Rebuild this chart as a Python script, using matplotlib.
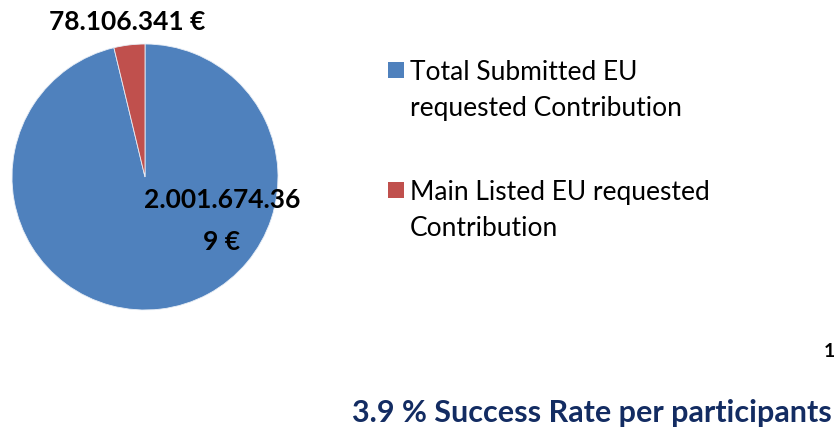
import matplotlib
matplotlib.use("Agg")
import matplotlib.pyplot as plt
from matplotlib.patches import Rectangle

# data
labels = [["Total Submitted EU", "requested Contribution"],
          ["Main Listed EU requested", "Contribution"]]
values = [2001674369, 78106341]
colors = ["#4F81BD", "#C0504D"]
value_text = ["2.001.674.36", "78.106.341 €"]
title = "3.9 % Success Rate per participants"

W, H = 837, 435
plt.rcParams["font.family"] = ["Lato", "DejaVu Sans"]

fig = plt.figure(figsize=(W / 100, H / 100), dpi=100)


def px(x, y):
    return x / W, 1 - y / H


# pie axes: centre (145,178), radius 133 px
cx, cy, r = 145, 178, 133
ax = fig.add_axes([(cx - r) / W, 1 - (cy + r) / H, 2 * r / W, 2 * r / H])
wedges, _ = ax.pie(values, colors=colors, startangle=90, counterclock=False,
                   radius=1, wedgeprops=dict(linewidth=0.6, edgecolor="#e8eef6"))
ax.set_xlim(-1, 1)
ax.set_ylim(-1, 1)
ax.set_aspect("equal")
ax.axis("off")

# value labels
fig.text(*px(127, 22), value_text[1], ha="center", va="center",
         fontsize=19, fontweight="bold", color="black")
fig.text(*px(222, 200), value_text[0], ha="center", va="center",
         fontsize=19, fontweight="bold", color="black")
fig.text(*px(222, 242), "9 €", ha="center", va="center",
         fontsize=19, fontweight="bold", color="black")

# legend (handle sits on the first line of each entry)
entry_top = [63, 183]
for i, w in enumerate(wedges):
    x0, y0 = px(388, entry_top[i] + 16)
    fig.add_artist(Rectangle((x0, y0), 16 / W, 16 / H,
                             transform=fig.transFigure,
                             facecolor=w.get_facecolor(), edgecolor="none"))
    for j, line in enumerate(labels[i]):
        fig.text(*px(410, entry_top[i] + 17 + 36 * j), line,
                 ha="left", va="baseline", fontsize=19, color="black")

# stray page number and title
fig.text(*px(824, 352), "1", ha="left", va="center",
         fontsize=14, fontweight="bold", color="black")
fig.text(*px(832, 413), title, ha="right", va="center",
         fontsize=22, fontweight="bold", color="#132C62")

fig.savefig("out.png", dpi=100)
